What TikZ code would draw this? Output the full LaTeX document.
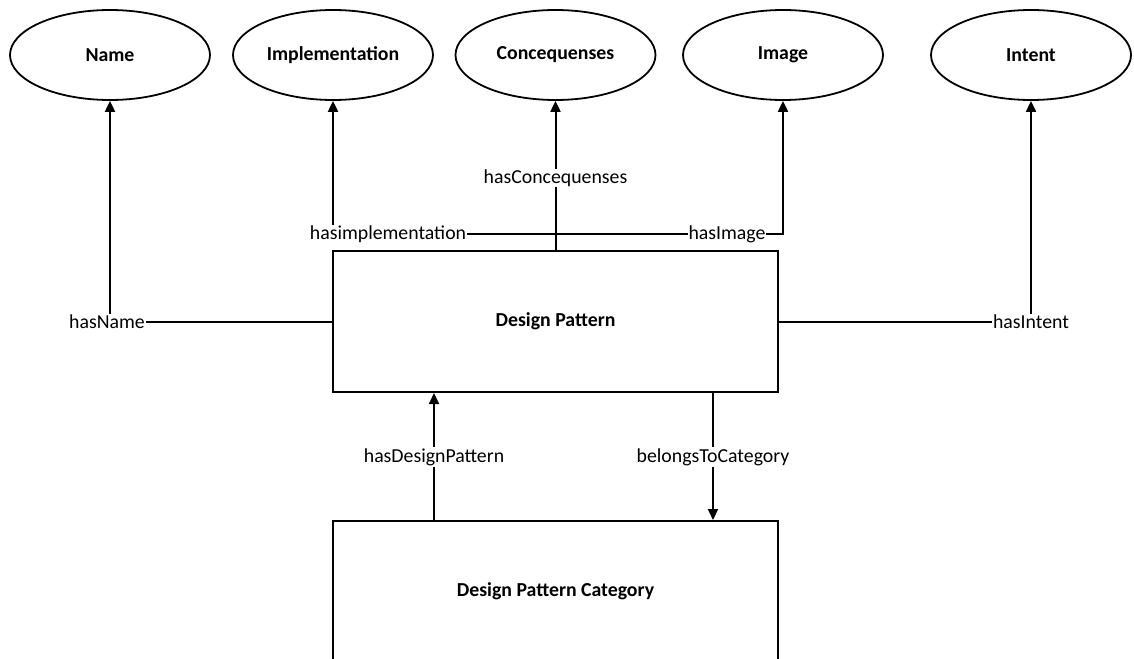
\documentclass[tikz,border=0pt]{standalone}
\usepackage{fontspec}
\setmainfont{Carlito}
\usetikzlibrary{arrows.meta,shapes.geometric}
\begin{document}
\begin{tikzpicture}[x=1pt,y=-1pt,
  ent/.style={ellipse, draw, line width=1.8pt, minimum width=200pt, minimum height=90pt, inner sep=0pt, font=\bfseries\fontsize{19.8}{23}\selectfont},
  box/.style={rectangle, draw, line width=2pt, minimum width=445pt, minimum height=141pt, inner sep=0pt, font=\bfseries\fontsize{19.8}{23}\selectfont},
  lbl/.style={fill=white, inner sep=1pt, font=\fontsize{19.8}{23}\selectfont},
  conn/.style={line width=2pt},
  arr/.style={conn, -{Triangle[length=11pt,width=10pt]}}]
\useasboundingbox (0,0) rectangle (1134,658);
\fill[white] (0,0) rectangle (1134,658);
% entities
\node[ent] (Name)   at (110,55)    {Name};
\node[ent] (Impl)   at (333,55)    {Implementation};
\node[ent] (Conc)   at (555.5,55)  {Concequenses};
\node[ent] (Img)    at (783,55)    {Image};
\node[ent] (Intent) at (1031,55)   {Intent};
% boxes
\node[box] (DP)  at (555.5,321.5) {Design Pattern};
\node[box] (Cat) at (555.5,591.5) {Design Pattern Category};
% connectors
\coordinate (j) at (555.5,234);
\coordinate (xa) at (434,0);
\coordinate (xb) at (713,0);
\draw[arr] (DP.west) -| (Name.south);
\draw[arr] (DP.east) -| (Intent.south);
\draw[arr] (DP.north) -- (Conc.south);
\draw[arr] (DP.north) -- (j) -| (Impl.south);
\draw[arr] (DP.north) -- (j) -| (Img.south);
\draw[arr] (Cat.north -| xa) -- (DP.south -| xa);
\draw[arr] (DP.south -| xb) -- (Cat.north -| xb);
% labels
\node[lbl] (lName)   at (107,321.5) {hasName};
\node[lbl] (lIntent) at (1031,321.5) {hasIntent};
\node[lbl] (lConc)   at (555.5,178) {hasConcequenses};
\node[lbl] (lImpl)   at (388,234) {hasimplementation};
\node[lbl] (lImg)    at (727,234) {hasImage};
\node[lbl] (lHDP)    at (434,457) {hasDesignPattern};
\node[lbl] (lBTC)    at (713,457) {belongsToCategory};
\end{tikzpicture}
\end{document}
